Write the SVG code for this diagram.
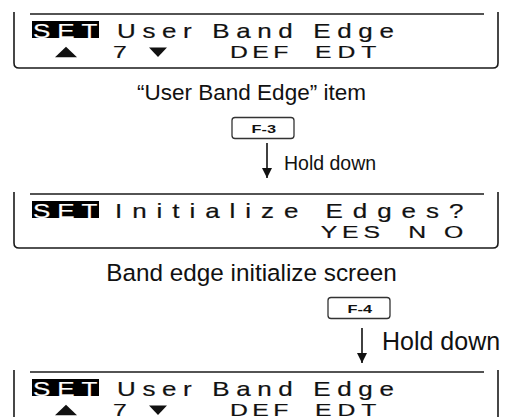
<svg xmlns="http://www.w3.org/2000/svg" width="507" height="417" viewBox="0 0 507 417">
<style>
.frame{fill:none;stroke:#1a1a1a;stroke-width:1.6}
.rule{fill:none;stroke:#1a1a1a;stroke-width:1.6}
.inv{fill:#000}
.lcd{font-family:"Liberation Sans",Arial,sans-serif;font-size:20px;fill:#111;stroke:#111;stroke-width:0.2}
.lcd2{font-family:"Liberation Sans",Arial,sans-serif;font-size:16.5px;fill:#111;stroke:#111;stroke-width:0.2}
.neg{fill:#fff;stroke:#fff}
.tri{fill:#111}
.cap{font-family:"Liberation Sans",Arial,sans-serif;fill:#111}
.key{fill:#fff;stroke:#333;stroke-width:1.3}
.keytxt{font-family:"Liberation Sans",Arial,sans-serif;font-size:11.5px;font-weight:bold;fill:#111}
.conn{stroke:#111;stroke-width:1.6;fill:none}
</style>
<defs>
<marker id="ah" viewBox="0 0 10 10" refX="10" refY="5" markerWidth="11" markerHeight="10" orient="auto" markerUnits="userSpaceOnUse">
<path d="M0,0 L10,5 L0,10 z" fill="#111"/>
</marker>
</defs>

<g id="panel1">
<path class="frame" d="M14,12 V63 Q14,68 19,68 H493 Q498,68 498,63 V12"/>
<path class="rule" d="M30,14 H484"/>
<rect class="inv" x="32" y="21" width="67" height="17"/>
<g transform="translate(33,37.5) scale(1.3,1)"><text class="lcd neg" textLength="49.5" lengthAdjust="spacing">SET</text></g>
<g transform="translate(117,37.5) scale(1.3,1)"><text class="lcd" textLength="213" lengthAdjust="spacing">User Band Edge</text></g>
<polygon class="tri" points="55,57.3 77,57.3 66,46.7"/>
<g transform="translate(113,57.5) scale(1.5,1)"><text class="lcd2">7</text></g>
<polygon class="tri" points="149,47.5 167,47.5 158,57"/>
<g transform="translate(230,57.5) scale(1.5,1)"><text class="lcd2" textLength="39" lengthAdjust="spacing">DEF</text></g>
<g transform="translate(315,57.5) scale(1.5,1)"><text class="lcd2" textLength="41" lengthAdjust="spacing">EDT</text></g>
</g>

<g id="label1"><text class="cap" x="251.5" y="100" text-anchor="middle" style="font-size:22.5px">“User Band Edge” item</text></g>

<g id="key-f3">
<rect class="key" x="232" y="117.5" width="62" height="21" rx="3"/>
<text class="keytxt" x="251.5" y="132.5" textLength="24.5" lengthAdjust="spacingAndGlyphs">F-3</text>
</g>
<g id="hold1"><text class="cap" x="284" y="170" style="font-size:19.5px">Hold down</text></g>

<g id="panel2">
<path class="frame" d="M14,192 V243 Q14,248 19,248 H493 Q498,248 498,243 V192"/>
<path class="rule" d="M30,194 H484"/>
<rect class="inv" x="32" y="201" width="67" height="17"/>
<g transform="translate(33,217.5) scale(1.3,1)"><text class="lcd neg" textLength="49.5" lengthAdjust="spacing">SET</text></g>
<g transform="translate(115,217.5) scale(1.3,1)"><text class="lcd" textLength="268" lengthAdjust="spacing">Initialize Edges?</text></g>
<g transform="translate(320.7,237.5) scale(1.5,1)"><text class="lcd2" textLength="39.5" lengthAdjust="spacing">YES</text></g>
<g transform="translate(408.3,237.5) scale(1.5,1)"><text class="lcd2" textLength="36.7" lengthAdjust="spacing">NO</text></g>
</g>

<g id="label2"><text class="cap" x="251.5" y="281" text-anchor="middle" style="font-size:24.3px">Band edge initialize screen</text></g>

<g id="key-f4">
<rect class="key" x="328" y="297.5" width="62" height="21" rx="3"/>
<text class="keytxt" x="347.5" y="312.5" textLength="24.5" lengthAdjust="spacingAndGlyphs">F-4</text>
</g>
<g id="hold2"><text class="cap" x="382" y="350" style="font-size:25px">Hold down</text></g>

<g id="panel3" transform="translate(0,358)">
<path class="frame" d="M14,12 V70 M498,12 V70"/>
<path class="rule" d="M30,14 H484"/>
<rect class="inv" x="32" y="21" width="67" height="17"/>
<g transform="translate(33,37.5) scale(1.3,1)"><text class="lcd neg" textLength="49.5" lengthAdjust="spacing">SET</text></g>
<g transform="translate(117,37.5) scale(1.3,1)"><text class="lcd" textLength="213" lengthAdjust="spacing">User Band Edge</text></g>
<polygon class="tri" points="55,57.3 77,57.3 66,46.7"/>
<g transform="translate(113,57.5) scale(1.5,1)"><text class="lcd2">7</text></g>
<polygon class="tri" points="149,47.5 167,47.5 158,57"/>
<g transform="translate(230,57.5) scale(1.5,1)"><text class="lcd2" textLength="39" lengthAdjust="spacing">DEF</text></g>
<g transform="translate(315,57.5) scale(1.5,1)"><text class="lcd2" textLength="41" lengthAdjust="spacing">EDT</text></g>
</g>

<g id="connectors">
<line class="conn" x1="267" y1="143" x2="267" y2="178" marker-end="url(#ah)"/>
<line class="conn" x1="362" y1="328" x2="362" y2="363" marker-end="url(#ah)"/>
</g>
</svg>
